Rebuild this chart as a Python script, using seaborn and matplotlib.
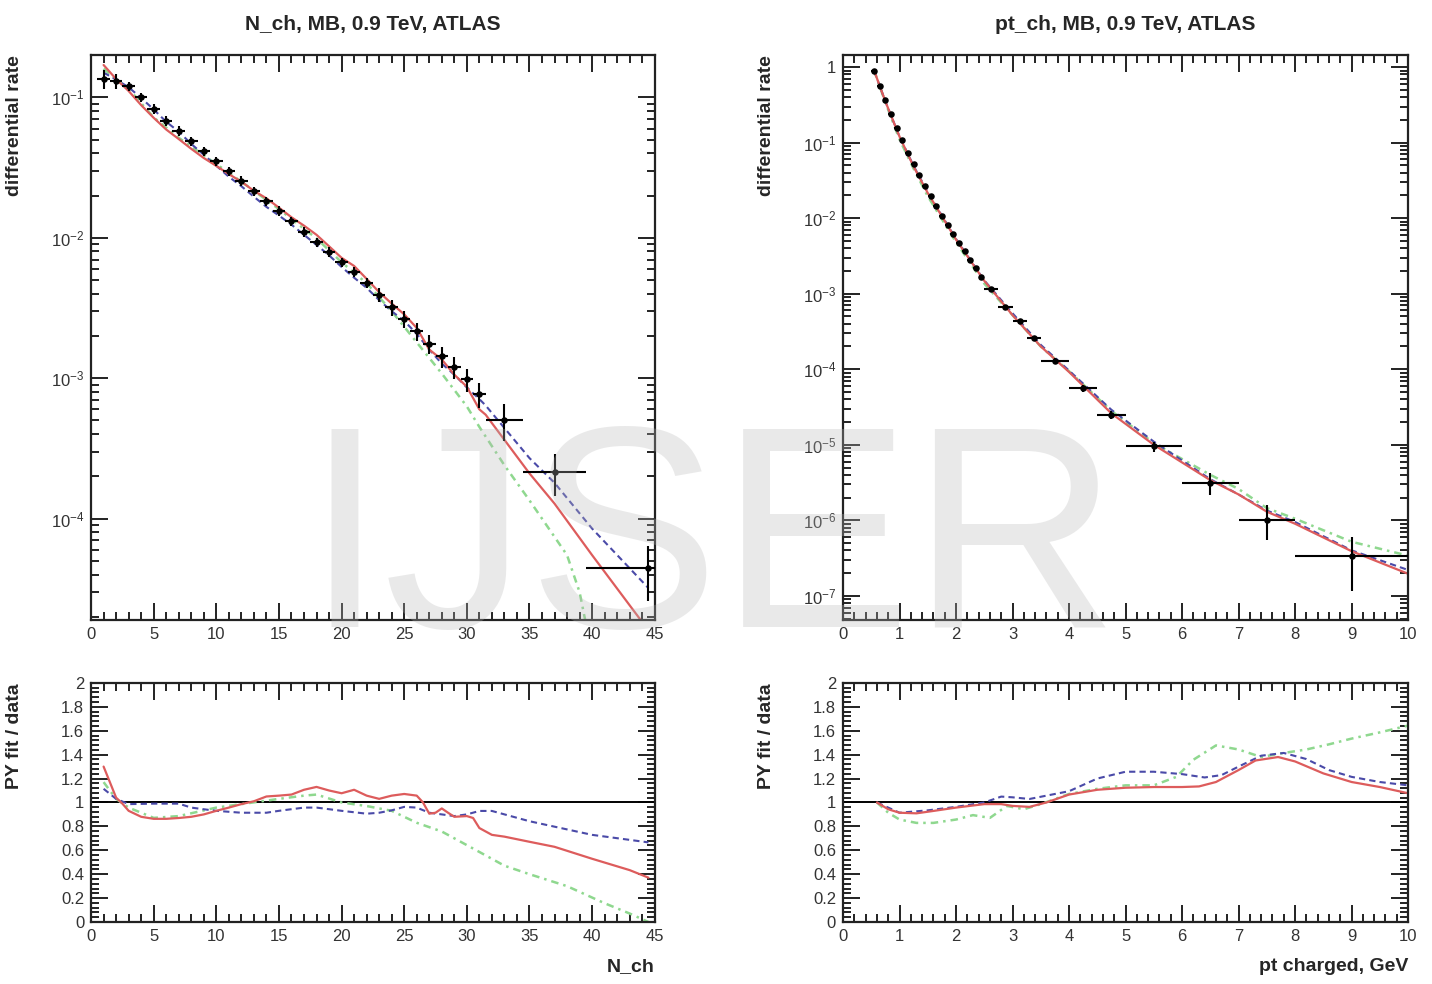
import numpy as np
import matplotlib
matplotlib.use("Agg")
import matplotlib.pyplot as plt
import seaborn as sns
from matplotlib.ticker import MultipleLocator, LogLocator, FuncFormatter, AutoMinorLocator

# ---- N_ch data (ATLAS MB 0.9 TeV) ----
nch_x = [1, 2, 3, 4, 5, 6, 7, 8, 9, 10, 11, 12, 13, 14, 15, 16, 17, 18, 19, 20,
         21, 22, 23, 24, 25, 26, 27, 28, 29, 30, 31, 33, 37, 44.5]
nch_xlo = [0.5] * 31 + [1.5, 2.5, 5.0]
nch_xhi = [0.5] * 31 + [1.5, 2.5, 5.5]
nch_y = [0.136, 0.13, 0.12, 0.1, 0.0826, 0.068, 0.058, 0.0487, 0.0413, 0.035,
         0.0297, 0.0255, 0.0214, 0.0182, 0.0155, 0.0131, 0.011, 0.0093, 0.0079, 0.0067,
         0.0057, 0.0048, 0.00394, 0.0032, 0.00266, 0.00216, 0.00176, 0.00143, 0.0012, 0.00098,
         0.000766, 0.000508, 0.000216, 4.46e-5]
nch_rel = [0.15, 0.12] + [0.08] * 20 + [0.12, 0.13, 0.14, 0.15, 0.16, 0.17, 0.18, 0.19,
                                        0.2, 0.3, 0.33, 0.42]

# MC curves, top left
mc_nch_x = [1, 2, 3, 4, 5, 6, 7, 8, 9, 10, 11, 12, 13, 14, 15, 16, 17, 18, 19, 20,
            21, 22, 23, 24, 25, 26, 27, 28, 29, 30, 31, 31.5, 35, 37, 40, 44.5]
red_nch = [0.17, 0.135, 0.111, 0.088, 0.0715, 0.059, 0.0505, 0.043, 0.037, 0.0325,
           0.0284, 0.0251, 0.0216, 0.0191, 0.0164, 0.014, 0.0122, 0.0105, 0.0087, 0.0072,
           0.0063, 0.0051, 0.0041, 0.0034, 0.00285, 0.00228, 0.0016, 0.00136, 0.00106, 0.00087,
           0.0006, 0.00055, 0.00021, 0.000128, 5.5e-5, 1.6e-5]
blue_nch = [0.15, 0.134, 0.118, 0.099, 0.082, 0.067, 0.057, 0.0466, 0.039, 0.0326,
            0.0272, 0.0233, 0.0196, 0.0166, 0.0144, 0.0124, 0.0105, 0.0089, 0.0075, 0.0062,
            0.0052, 0.0044, 0.0036, 0.003, 0.00256, 0.00207, 0.0016, 0.00127, 0.00106, 0.00086,
            0.00071, 0.00064, 0.00027, 0.00018, 8.5e-5, 3.2e-5]
green_nch_x = [1, 2, 3, 5, 7, 10, 12, 15, 17, 18, 20, 22, 24, 26, 28, 30, 31, 33, 35, 38, 39, 39.5]
green_nch = [0.16, 0.134, 0.115, 0.072, 0.0515, 0.0335, 0.0251, 0.016, 0.0116, 0.0099,
             0.0067, 0.00475, 0.003, 0.0018, 0.00108, 0.00063, 0.00045, 0.00024, 0.000135,
             5.5e-5, 3e-5, 1.8e-5]

# ratios, bottom left
red_r_x = [1, 2, 2.5, 3, 4, 5, 6, 7, 8, 9, 10, 11, 12, 13, 14, 15, 16, 17, 18, 19, 20,
           21, 22, 23, 24, 25, 26, 26.5, 27, 27.5, 28, 28.5, 29, 30, 30.5, 31, 32, 33,
           35, 37, 40, 43, 44.5]
red_r = [1.30, 1.04, 0.99, 0.93, 0.88, 0.863, 0.863, 0.87, 0.88, 0.90, 0.93, 0.957, 0.986,
         1.01, 1.05, 1.057, 1.066, 1.106, 1.13, 1.10, 1.077, 1.106, 1.057, 1.03, 1.057, 1.071,
         1.057, 1.0, 0.906, 0.914, 0.95, 0.914, 0.88, 0.886, 0.87, 0.786, 0.729, 0.714,
         0.671, 0.629, 0.529, 0.434, 0.371]
blue_r_x = [1, 2, 3, 5, 7, 8, 9, 10, 12, 14, 15, 17, 18, 20, 22, 23, 24, 25, 26, 27, 29,
            30, 31, 32, 35, 40, 44.5]
blue_r = [1.114, 1.03, 0.986, 0.99, 0.99, 0.957, 0.943, 0.93, 0.914, 0.914, 0.93, 0.957,
          0.957, 0.93, 0.906, 0.914, 0.934, 0.963, 0.957, 0.914, 0.886, 0.9, 0.929, 0.929,
          0.843, 0.729, 0.666]
green_r_x = [1, 2, 3, 5, 7, 10, 12, 15, 17, 18, 20, 22, 24, 26, 28, 30, 31, 33, 35, 38,
             41, 43, 44.5]
green_r = [1.17, 1.03, 0.957, 0.871, 0.886, 0.957, 0.986, 1.03, 1.057, 1.066, 1.0, 0.97,
           0.93, 0.83, 0.757, 0.643, 0.586, 0.471, 0.4, 0.3, 0.157, 0.071, 0.0]

# ---- pt data ----
pt_x = [0.55, 0.65, 0.75, 0.85, 0.95, 1.05, 1.15, 1.25, 1.35, 1.45, 1.55, 1.65, 1.75,
        1.85, 1.95, 2.05, 2.15, 2.25, 2.35, 2.45, 2.625, 2.875, 3.125, 3.375, 3.75,
        4.25, 4.75, 5.5, 6.5, 7.5, 9.0]
pt_xerr = [0.05] * 20 + [0.125, 0.125, 0.125, 0.125, 0.25, 0.25, 0.25, 0.5, 0.5, 0.5, 1.0]
pt_y = [0.9, 0.57, 0.363, 0.237, 0.156, 0.107, 0.0738, 0.0518, 0.037, 0.0268, 0.0196,
        0.0144, 0.0108, 0.0081, 0.0062, 0.0047, 0.00367, 0.0028, 0.00216, 0.00168,
        0.00116, 0.00067, 0.00043, 0.00026, 0.000129, 5.6e-5, 2.5e-5, 9.5e-6, 3.1e-6,
        1.0e-6, 3.4e-7]
pt_rel_lo = [0.03] * 20 + [0.05, 0.05, 0.06, 0.07, 0.08, 0.1, 0.12, 0.15, 0.3, 0.45, 0.66]
pt_rel_hi = [0.03] * 20 + [0.05, 0.05, 0.06, 0.07, 0.08, 0.1, 0.12, 0.15, 0.35, 0.6, 0.76]

mc_pt_x = [0.55, 0.75, 1.0, 1.25, 1.5, 2.0, 2.5, 3.0, 3.5, 4.0, 4.75, 5.5, 6.5, 7.0,
           7.5, 8.0, 9.0, 10.0]
red_pt = [0.9, 0.35, 0.12, 0.048, 0.0215, 0.0052, 0.00148, 0.00052, 0.0002, 9.2e-5,
          2.6e-5, 1.0e-5, 3.4e-6, 2.2e-6, 1.3e-6, 9e-7, 3.9e-7, 1.96e-7]
blue_pt = [0.9, 0.35, 0.12, 0.049, 0.022, 0.0053, 0.0015, 0.00055, 0.00021, 9.6e-5,
           2.9e-5, 1.1e-5, 3.5e-6, 2.2e-6, 1.35e-6, 9.5e-7, 4.0e-7, 2.2e-7]
green_pt = [0.9, 0.34, 0.11, 0.045, 0.0195, 0.0048, 0.00136, 0.00052, 0.0002, 9.4e-5,
            2.8e-5, 1.05e-5, 4.0e-6, 2.6e-6, 1.45e-6, 1.05e-6, 5.2e-7, 3.4e-7]

red_pr_x = [0.6, 0.8, 1.0, 1.3, 1.6, 2.0, 2.5, 2.8, 3.0, 3.3, 3.6, 4.0, 4.5, 5.0, 5.5,
            6.0, 6.3, 6.6, 7.0, 7.3, 7.7, 8.0, 8.5, 9.0, 9.5, 10.0]
red_pr = [1.0, 0.943, 0.914, 0.909, 0.929, 0.957, 0.986, 0.986, 0.971, 0.963, 1.0, 1.066,
          1.106, 1.123, 1.129, 1.129, 1.134, 1.171, 1.271, 1.351, 1.38, 1.343, 1.243,
          1.171, 1.129, 1.077]
blue_pr_x = [0.6, 1.0, 1.5, 2.0, 2.5, 2.8, 3.0, 3.3, 3.6, 4.0, 4.5, 5.0, 5.5, 6.0, 6.4,
             6.7, 7.0, 7.4, 7.8, 8.2, 8.6, 9.0, 9.5, 10.0]
blue_pr = [1.0, 0.914, 0.934, 0.963, 1.0, 1.049, 1.043, 1.029, 1.057, 1.094, 1.2, 1.257,
           1.257, 1.237, 1.209, 1.229, 1.3, 1.391, 1.414, 1.363, 1.271, 1.214, 1.171, 1.143]
green_pr_x = [0.6, 0.8, 1.0, 1.3, 1.6, 2.0, 2.3, 2.6, 2.9, 3.2, 3.5, 4.0, 4.5, 5.0, 5.5,
              5.9, 6.2, 6.6, 7.0, 7.4, 7.8, 8.2, 8.6, 9.0, 9.5, 10.0]
green_pr = [1.0, 0.914, 0.857, 0.829, 0.829, 0.857, 0.894, 0.871, 0.971, 0.943, 0.986,
            1.071, 1.114, 1.143, 1.143, 1.214, 1.357, 1.477, 1.443, 1.38, 1.414, 1.443,
            1.486, 1.534, 1.586, 1.643]

RED = "#dd5c5c"
BLUE = "#4a4aa8"
GREEN = "#8fd88f"
TICKC = "#333333"

sns.set_theme(style="ticks")
plt.rcParams['font.family'] = ['Liberation Sans', 'DejaVu Sans']
plt.rcParams['mathtext.fontset'] = 'custom'
plt.rcParams['mathtext.rm'] = 'Liberation Sans'
plt.rcParams['mathtext.it'] = 'Liberation Sans'

fig = plt.figure(figsize=(14.32, 9.84), dpi=100)
ax_lt = fig.add_axes([0.0636, 0.370, 0.3936, 0.574])
ax_rt = fig.add_axes([0.5887, 0.370, 0.3946, 0.574])
ax_lb = fig.add_axes([0.0636, 0.063, 0.3936, 0.243])
ax_rb = fig.add_axes([0.5887, 0.063, 0.3946, 0.243])


def log_fmt(v, pos):
    e = int(round(np.log10(v)))
    return '1' if e == 0 else r'$10^{%d}$' % e


def root_style(ax, xmajor, xminor):
    for s in ax.spines.values():
        s.set_linewidth(1.6)
        s.set_color('#222222')
    ax.xaxis.set_major_locator(MultipleLocator(xmajor))
    ax.xaxis.set_minor_locator(MultipleLocator(xminor))
    ax.tick_params(which='both', direction='in', top=True, right=True,
                   colors='#222222', labelcolor=TICKC, labelsize=12, width=1.4)
    ax.tick_params(which='major', length=12, pad=5)
    ax.tick_params(which='minor', length=6)
    ax.xaxis.set_major_formatter(FuncFormatter(lambda v, p: '%g' % v))


def draw_data(ax, x, y, xlo, xhi, ylo, yhi):
    ax.errorbar(x, y, xerr=[xlo, xhi], yerr=[ylo, yhi], fmt='none',
                ecolor='black', elinewidth=1.5, capsize=0, zorder=4)
    sns.scatterplot(x=x, y=y, ax=ax, color='black', s=22, linewidth=0, zorder=5)


# ---- top left ----
ax = ax_lt
sns.lineplot(x=green_nch_x, y=green_nch, ax=ax, color=GREEN, lw=1.8, linestyle=(0, (3, 2, 1, 2)))
sns.lineplot(x=mc_nch_x, y=blue_nch, ax=ax, color=BLUE, lw=1.5, linestyle=(0, (3, 2)))
sns.lineplot(x=mc_nch_x, y=red_nch, ax=ax, color=RED, lw=1.6)
nch_ylo = [v * r for v, r in zip(nch_y, nch_rel)]
draw_data(ax, nch_x, nch_y, nch_xlo, nch_xhi, nch_ylo, nch_ylo)
ax.set_yscale('log')
ax.set_xlim(0, 45)
ax.set_ylim(1.9e-5, 0.2)
root_style(ax, 5, 1)
ax.yaxis.set_major_locator(LogLocator(base=10, numticks=20))
ax.yaxis.set_minor_locator(LogLocator(base=10, subs=np.arange(2, 10), numticks=50))
ax.yaxis.set_major_formatter(FuncFormatter(log_fmt))
ax.set_title('N_ch, MB, 0.9 TeV, ATLAS', fontsize=15, fontweight='bold', pad=18)
ax.set_ylabel('differential rate', fontsize=14, fontweight='bold', loc='top')
ax.yaxis.set_label_coords(-0.12, 1.0)
ax.set_xlabel('')

# ---- top right ----
ax = ax_rt
sns.lineplot(x=mc_pt_x, y=green_pt, ax=ax, color=GREEN, lw=1.8, linestyle=(0, (3, 2, 1, 2)))
sns.lineplot(x=mc_pt_x, y=blue_pt, ax=ax, color=BLUE, lw=1.5, linestyle=(0, (3, 2)))
sns.lineplot(x=mc_pt_x, y=red_pt, ax=ax, color=RED, lw=1.6)
pt_ylo = [v * r for v, r in zip(pt_y, pt_rel_lo)]
pt_yhi = [v * r for v, r in zip(pt_y, pt_rel_hi)]
draw_data(ax, pt_x, pt_y, pt_xerr, pt_xerr, pt_ylo, pt_yhi)
ax.set_yscale('log')
ax.set_xlim(0, 10)
ax.set_ylim(4.8e-8, 1.44)
root_style(ax, 1, 0.2)
ax.yaxis.set_major_locator(LogLocator(base=10, numticks=20))
ax.yaxis.set_minor_locator(LogLocator(base=10, subs=np.arange(2, 10), numticks=50))
ax.yaxis.set_major_formatter(FuncFormatter(log_fmt))
ax.set_title('pt_ch, MB, 0.9 TeV, ATLAS', fontsize=15, fontweight='bold', pad=18)
ax.set_ylabel('differential rate', fontsize=14, fontweight='bold', loc='top')
ax.yaxis.set_label_coords(-0.12, 1.0)
ax.set_xlabel('')

# ---- ratio panels ----
for ax, curves, xmax, xmaj, xmin, xlab in [
        (ax_lb, [(green_r_x, green_r, GREEN), (blue_r_x, blue_r, BLUE), (red_r_x, red_r, RED)],
         45, 5, 1, 'N_ch'),
        (ax_rb, [(green_pr_x, green_pr, GREEN), (blue_pr_x, blue_pr, BLUE), (red_pr_x, red_pr, RED)],
         10, 1, 0.2, 'pt charged, GeV')]:
    ax.axhline(1.0, color='black', lw=1.4, zorder=1)
    for cx, cy, col in curves:
        if col == GREEN:
            ls, lw = (0, (3, 2, 1, 2)), 1.8
        elif col == BLUE:
            ls, lw = (0, (3, 2)), 1.5
        else:
            ls, lw = '-', 1.6
        sns.lineplot(x=cx, y=cy, ax=ax, color=col, lw=lw, linestyle=ls)
    ax.set_xlim(0, xmax)
    ax.set_ylim(0, 2)
    root_style(ax, xmaj, xmin)
    ax.yaxis.set_major_locator(MultipleLocator(0.2))
    ax.yaxis.set_minor_locator(AutoMinorLocator(5))
    ax.yaxis.set_major_formatter(FuncFormatter(lambda v, p: '%g' % round(v, 2)))
    ax.set_ylabel('PY fit / data', fontsize=14, fontweight='bold', loc='top')
    ax.yaxis.set_label_coords(-0.12, 1.0)
    ax.set_xlabel(xlab, fontsize=14, fontweight='bold', loc='right')
    ax.xaxis.set_label_coords(1.0, -0.15)

# watermark
fig.text(0.497, 0.4385, 'IJSER', fontsize=207, color='#b8b8b8', alpha=0.3,
         ha='center', va='center', zorder=10)

fig.savefig('out.png', dpi=100, facecolor='white')
